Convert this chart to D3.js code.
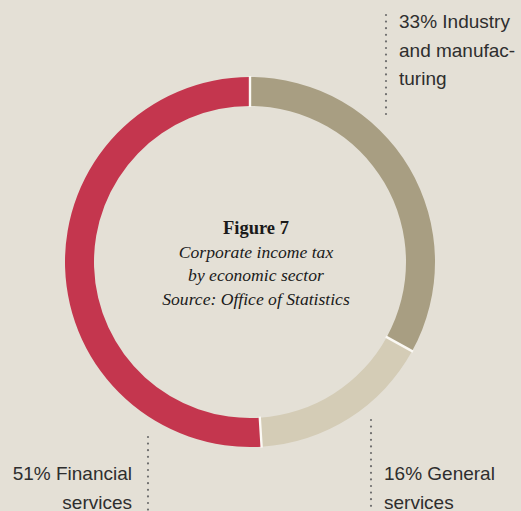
<!DOCTYPE html>
<html>
<head>
<meta charset="utf-8">
<script src="https://cdn.jsdelivr.net/npm/d3@7"></script>
<style>
  html, body { margin: 0; padding: 0; background: #E4E0D6; }
  svg { display: block; }
</style>
</head>
<body>
<svg id="chart" width="521" height="511"></svg>
<script>
// Sector shares of corporate income tax (percent)
const sectors = ["Industry and manufacturing", "General services", "Financial services"];
const shares = [33, 16, 51];
const colors = ["#A89E82", "#D4CCB6", "#C4364E"];

// Label lines per sector
const labelLines = [
  ["33% Industry", "and manufac-", "turing"],
  ["16% General", "services"],
  ["51% Financial", "services"]
];

const titleText = "Figure 7";
const subtitleLines = ["Corporate income tax", "by economic sector", "Source: Office of Statistics"];

const W = 521, H = 511;
const cx = 250, cy = 262;
const outerR = 185, innerR = 156;

const svg = d3.select("#chart");
svg.append("rect").attr("width", W).attr("height", H).attr("fill", "#E4E0D6");

const pie = d3.pie().value(d => d).sort(null);
const arcs = pie(shares);
const arc = d3.arc().innerRadius(innerR).outerRadius(outerR);

const g = svg.append("g").attr("transform", `translate(${cx},${cy})`);
g.selectAll("path.slice")
  .data(arcs)
  .join("path")
  .attr("class", "slice")
  .attr("d", arc)
  .attr("fill", (d, i) => colors[i]);

// thin light separators at slice boundaries
g.selectAll("line.sep")
  .data(arcs)
  .join("line")
  .attr("class", "sep")
  .attr("x1", d => Math.sin(d.startAngle) * (innerR - 1))
  .attr("y1", d => -Math.cos(d.startAngle) * (innerR - 1))
  .attr("x2", d => Math.sin(d.startAngle) * (outerR + 1))
  .attr("y2", d => -Math.cos(d.startAngle) * (outerR + 1))
  .attr("stroke", "#FAF8F3")
  .attr("stroke-width", 2.4);

// centre caption
const cap = svg.append("g").attr("font-family", "'Liberation Serif', 'Times New Roman', serif")
  .attr("fill", "#1a1a1a").attr("text-anchor", "middle");
cap.append("text").attr("x", 256).attr("y", 234)
  .attr("font-size", 18.5).attr("font-weight", "bold").text(titleText);
cap.selectAll("text.sub").data(subtitleLines).join("text")
  .attr("class", "sub")
  .attr("x", 256)
  .attr("y", (d, i) => 258 + i * 23.3)
  .attr("font-size", 17.6).attr("font-style", "italic")
  .text(d => d);

// dotted leader lines and labels
const leaders = [
  { x: 386, y1: 15, y2: 114 },
  { x: 371, y1: 420, y2: 511 },
  { x: 148, y1: 437, y2: 511 }
];
svg.selectAll("line.leader").data(leaders).join("line")
  .attr("class", "leader")
  .attr("x1", d => d.x).attr("x2", d => d.x)
  .attr("y1", d => d.y1).attr("y2", d => d.y2)
  .attr("stroke", "#6f6f6f").attr("stroke-width", 2.2)
  .attr("stroke-linecap", "round")
  .attr("stroke-dasharray", "0 6.6");

const labelPos = [
  { x: 399, y: 28, anchor: "start" },
  { x: 384, y: 480, anchor: "start" },
  { x: 132, y: 480, anchor: "end" }
];
labelLines.forEach((lines, i) => {
  const p = labelPos[i];
  svg.append("text")
    .attr("font-family", "'Liberation Sans', Arial, sans-serif")
    .attr("font-size", 19)
    .attr("fill", "#2e2e2e")
    .attr("text-anchor", p.anchor)
    .selectAll("tspan").data(lines).join("tspan")
    .attr("x", p.x)
    .attr("y", (d, j) => p.y + j * 28.5)
    .text(d => d);
});
</script>
</body>
</html>
